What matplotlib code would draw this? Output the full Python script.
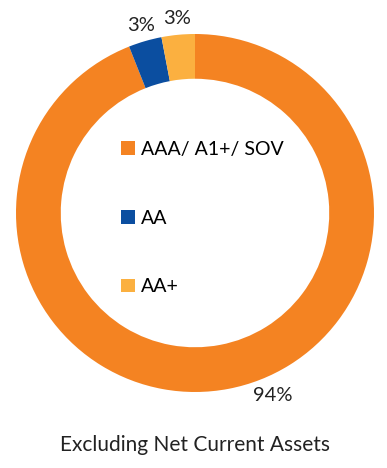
import matplotlib
matplotlib.use("Agg")
import matplotlib.pyplot as plt
import numpy as np

plt.rcParams['font.family'] = ['Lato', 'DejaVu Sans']

labels = ['AAA/ A1+/ SOV', 'AA', 'AA+']
values = [94, 3, 3]
pct_text = ['94%', '3%', '3%']
colors = ['#F48322', '#0B4EA0', '#FBB040']

fig = plt.figure(figsize=(3.87, 4.68), dpi=100)
ax = fig.add_axes([16/387, 76/468, 358/387, 358/468])

wedges, _ = ax.pie(values, colors=colors, startangle=90, counterclock=False,
                   radius=1.0, wedgeprops=dict(width=0.25, linewidth=0))
ax.set_xlim(-1, 1)
ax.set_ylim(-1, 1)
ax.set_aspect('equal')

# percentage labels outside the ring
for i, w in enumerate(wedges):
    ang = np.deg2rad((w.theta1 + w.theta2) / 2)
    r = 1.09
    if i == 0:
        ang = np.deg2rad(-67)
        r = 1.11
    ax.text(r * np.cos(ang), r * np.sin(ang), pct_text[i],
            ha='center', va='center', fontsize=14.5, color='#222222')

leg = ax.legend(wedges, labels, loc='center', bbox_to_anchor=(0.52, 0.486),
                frameon=False, fontsize=14, handlelength=0.7, handleheight=0.7,
                handletextpad=0.3, labelspacing=2.67)

fig.text(0.505, (468 - 445) / 468, 'Excluding Net Current Assets',
         ha='center', va='center', fontsize=15, color='#222222')

fig.savefig('out.png', dpi=100)
